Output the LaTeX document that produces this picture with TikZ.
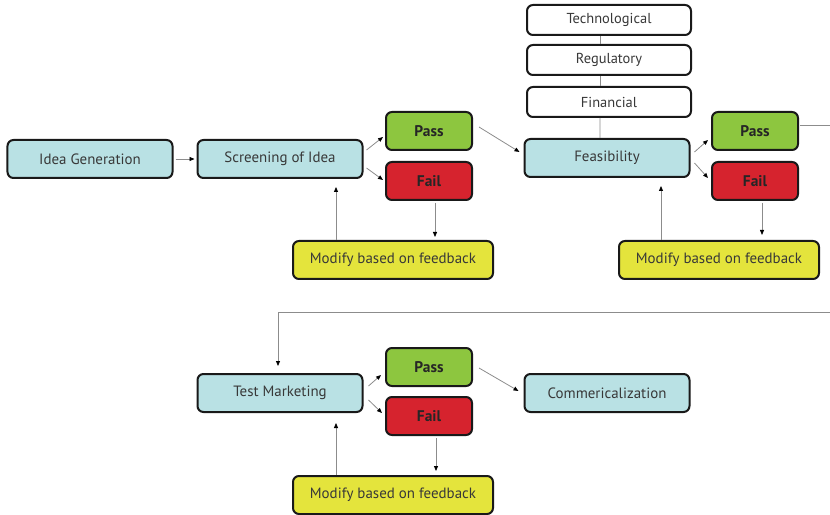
\documentclass[tikz,border=0pt]{standalone}
\usepackage{fontspec}
\setmainfont{PT Sans}
\usetikzlibrary{arrows.meta}
\definecolor{boxblue}{HTML}{B9E1E4}
\definecolor{boxgreen}{HTML}{8DC63F}
\definecolor{boxred}{HTML}{D6232E}
\definecolor{boxyellow}{HTML}{E4E43C}
\definecolor{linegray}{HTML}{8C8C8C}
\definecolor{txt}{HTML}{383838}
\begin{document}
\begin{tikzpicture}[x=1bp,y=-1bp,
  box/.style={draw=black!90, line width=2bp, rounded corners=6bp, minimum height=38bp,
    inner sep=0pt, text=txt, font=\fontsize{15}{17}\selectfont},
  stage/.style={box, fill=boxblue, minimum width=165bp},
  passbox/.style={box, fill=boxgreen, minimum width=86bp, text=black!85, font=\fontsize{15.5}{17}\selectfont\bfseries},
  failbox/.style={box, fill=boxred, minimum width=86bp, text=black!85, font=\fontsize{15.5}{17}\selectfont\bfseries},
  modbox/.style={box, fill=boxyellow, minimum width=200bp},
  optbox/.style={box, fill=white, minimum width=164bp, minimum height=30bp, font=\fontsize{14.5}{16}\selectfont},
  conn/.style={draw=linegray, line width=0.8bp, -{Triangle[length=5bp,width=4bp,color=black]}},
  link/.style={draw=linegray, line width=0.8bp}]
\useasboundingbox (0,0) rectangle (830,515);
\clip (0,0) rectangle (830,515);
% nodes
\node[stage] (idea) at (90,159) {Idea Generation};
\node[stage] (screen) at (280,159) {Screening of Idea};
\node[passbox] (p1) at (429,131) {Pass};
\node[failbox] (f1) at (429,181) {Fail};
\node[modbox] (m1) at (393,260) {Modify based on feedback};
\node[optbox] (tech) at (609,20) {Technological};
\node[optbox] (reg) at (609,60) {Regulatory};
\node[optbox] (fin) at (609,102) {Financial};
\node[stage] (feas) at (607,158) {Feasibility};
\node[passbox] (p2) at (755,131) {Pass};
\node[failbox] (f2) at (755,181) {Fail};
\node[modbox] (m2) at (719,260) {Modify based on feedback};
\node[stage] (test) at (280,393) {Test Marketing};
\node[passbox] (p3) at (429,367) {Pass};
\node[failbox] (f3) at (429,416) {Fail};
\node[stage] (comm) at (607,393) {Commericalization};
\node[modbox] (m3) at (393,495) {Modify based on feedback};
\coordinate (turnA) at (840,125);
\coordinate (turnB) at (840,312);
% stage 1
\draw[conn, shorten <=2bp, shorten >=2bp] (idea) -- (screen);
\draw[conn] ([shift={(3,-9)}]screen.east) -- ([shift={(-2,6)}]p1.west);
\draw[conn] ([shift={(3,9)}]screen.east) -- ([shift={(-2,-1)}]f1.west);
\draw[conn] ([shift={(6,-4)}]p1.east) -- ([shift={(-4,-6)}]feas.west);
\draw[conn, shorten <=2bp, shorten >=3bp] ([xshift=6bp]f1.south) -- ([xshift=6bp]f1.south |- m1.north);
\draw[conn, shorten >=8bp] ([xshift=-57bp]m1.north) -- ([xshift=-57bp]m1.north |- screen.south);
% feasibility
\draw[link] ([xshift=-9bp]tech.south) -- ([xshift=-9bp]reg.north);
\draw[link] ([xshift=-9bp]reg.south) -- ([xshift=-9bp]fin.north);
\draw[link] ([xshift=-9bp]fin.south) -- ([xshift=-7bp]feas.north);
\draw[conn] ([shift={(4,-6)}]feas.east) -- ([shift={(-3,9)}]p2.west);
\draw[conn] ([shift={(4,5)}]feas.east) -- ([shift={(-3,-3)}]f2.west);
\draw[conn, shorten <=2bp, shorten >=5bp] ([xshift=7bp]f2.south) -- ([xshift=7bp]f2.south |- m2.north);
\draw[conn, shorten >=8bp] ([xshift=-58bp]m2.north) -- ([xshift=-58bp]m2.north |- feas.south);
\draw[conn, shorten >=7bp] ([shift={(1,-6)}]p2.east) -- (turnA) -- (turnB) -| ([xshift=-2bp]test.north);
% test marketing
\draw[conn] ([shift={(5,-7)}]test.east) -- ([shift={(-4,8)}]p3.west);
\draw[conn] ([shift={(5,7)}]test.east) -- ([shift={(-3,-3)}]f3.west);
\draw[conn] ([shift={(6,1)}]p3.east) -- ([shift={(-5,-2)}]comm.west);
\draw[conn, shorten <=2bp, shorten >=4bp] ([xshift=7bp]f3.south) -- ([xshift=7bp]f3.south |- m3.north);
\draw[conn, shorten >=10bp] ([xshift=-57bp]m3.north) -- ([xshift=-57bp]m3.north |- test.south);
\end{tikzpicture}
\end{document}
